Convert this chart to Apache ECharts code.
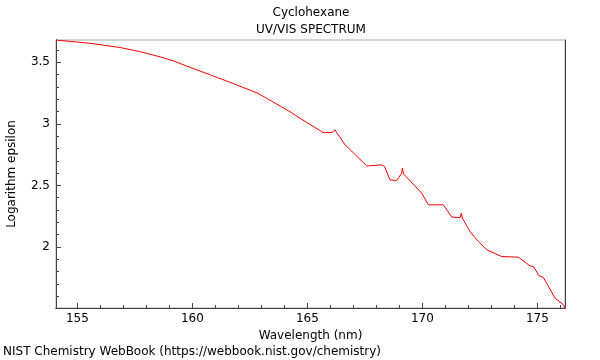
<!DOCTYPE html>
<html>
<head>
<meta charset="utf-8">
<script src="https://cdn.jsdelivr.net/npm/echarts@6/dist/echarts.min.js"></script>
<style>html,body{margin:0;padding:0;background:#fff}#c{width:600px;height:360px}</style>
</head>
<body>
<div id="c"></div>
<script>
const chartTitle = 'Cyclohexane';
const chartSubtitle = 'UV/VIS SPECTRUM';
const footer = 'NIST Chemistry WebBook (https://webbook.nist.gov/chemistry)';
const xName = 'Wavelength (nm)';
const yName = 'Logarithm epsilon';
const xRange = [154.07, 176.2];
const yRange = [1.504, 3.681];
const xMajorTicks = [155, 160, 165, 170, 175];
const xMinorTicks = [155, 156, 157, 158, 159, 160, 161, 162, 163, 164, 165, 166, 167, 168, 169, 170, 171, 172, 173, 174, 175, 176];
const yMajorTicks = [2, 2.5, 3, 3.5];
const yMinorTicks = [1.6, 1.7, 1.8, 1.9, 2.0, 2.1, 2.2, 2.3, 2.4, 2.5, 2.6, 2.7, 2.8, 2.9, 3.0, 3.1, 3.2, 3.3, 3.4, 3.5, 3.6];
const wavelength = [154.07, 155.55, 156.86, 157.73, 158.6, 159.25, 159.9, 160.33, 161.63, 162.85, 164.24, 164.68, 165.55, 165.68, 166.07, 166.15, 166.2, 166.25, 166.3, 166.64, 167.1, 167.58, 168.23, 168.35, 168.59, 168.88, 169.1, 169.13, 169.15, 169.18, 169.3, 169.97, 170.26, 170.91, 171.28, 171.64, 171.69, 171.71, 171.74, 172.07, 172.43, 172.8, 173.45, 174.17, 174.68, 174.83, 175.07, 175.26, 175.77, 176.13, 176.2];
const logEpsilon = [3.681, 3.654, 3.620, 3.586, 3.544, 3.506, 3.459, 3.429, 3.338, 3.248, 3.099, 3.045, 2.945, 2.929, 2.929, 2.933, 2.952, 2.935, 2.933, 2.829, 2.746, 2.658, 2.666, 2.655, 2.545, 2.539, 2.599, 2.640, 2.640, 2.593, 2.570, 2.437, 2.342, 2.342, 2.242, 2.239, 2.274, 2.274, 2.234, 2.125, 2.044, 1.976, 1.922, 1.917, 1.846, 1.841, 1.766, 1.752, 1.584, 1.530, 1.504];

const FONT = 'DejaVu Sans';
const chart = echarts.init(document.getElementById('c'), null, {renderer: 'canvas'});
const lbl = {color: '#000', fontFamily: FONT, fontSize: 12};
const fmt = v => String(Math.round(v * 1000) / 1000);
const axisCol = '#444';
chart.setOption({
  animation: false,
  backgroundColor: '#fff',
  grid: {left: 56, right: 35, top: 40, bottom: 52, show: true, borderColor: '#aaa', borderWidth: 1,
         containLabel: false, outerBoundsMode: 'none'},
  graphic: [
    {type: 'text', x: 311, y: 13, style: {text: chartTitle, font: '12px "DejaVu Sans"', fill: '#000', align: 'center', verticalAlign: 'middle'}},
    {type: 'text', x: 311, y: 30, style: {text: chartSubtitle, font: '12px "DejaVu Sans"', fill: '#000', align: 'center', verticalAlign: 'middle'}},
    {type: 'text', x: 3, y: 352, style: {text: footer, font: '12px "DejaVu Sans"', fill: '#000', align: 'left', verticalAlign: 'middle'}}
  ],
  xAxis: [
    {type: 'value', position: 'bottom', min: xRange[0], max: xRange[1],
     name: xName, nameLocation: 'middle', nameGap: 18, nameTextStyle: lbl,
     axisLine: {show: true, onZero: false, lineStyle: {color: axisCol, width: 1}},
     axisTick: {show: true, inside: true, length: 5, lineStyle: {color: axisCol}, customValues: xMajorTicks},
     axisLabel: Object.assign({margin: 5, customValues: xMajorTicks, formatter: fmt}, lbl),
     splitLine: {show: false}},
    {type: 'value', position: 'bottom', min: xRange[0], max: xRange[1], offset: 0, show: true,
     axisLine: {show: true, onZero: false, lineStyle: {color: axisCol, width: 1}},
     axisTick: {show: true, inside: true, length: 3, lineStyle: {color: axisCol}, customValues: xMinorTicks},
     axisLabel: {show: false}, splitLine: {show: false}}
  ],
  yAxis: [
    {type: 'value', position: 'left', min: yRange[0], max: yRange[1],
     name: yName, nameLocation: 'middle', nameGap: 38, nameTextStyle: lbl,
     axisLine: {show: true, onZero: false, lineStyle: {color: axisCol, width: 1}},
     axisTick: {show: true, inside: true, length: 5, lineStyle: {color: axisCol}, customValues: yMajorTicks},
     axisLabel: Object.assign({margin: 6, customValues: yMajorTicks, formatter: fmt}, lbl),
     splitLine: {show: false}},
    {type: 'value', position: 'left', min: yRange[0], max: yRange[1], offset: 0, show: true,
     axisLine: {show: true, onZero: false, lineStyle: {color: axisCol, width: 1}},
     axisTick: {show: true, inside: true, length: 3, lineStyle: {color: axisCol}, customValues: yMinorTicks},
     axisLabel: {show: false}, splitLine: {show: false}},
    {type: 'value', position: 'right', min: yRange[0], max: yRange[1], offset: 0,
     axisLine: {show: true, onZero: false, lineStyle: {color: axisCol, width: 1}}, axisTick: {show: false},
     axisLabel: {show: false}, splitLine: {show: false}}
  ],
  series: [{
    type: 'line', xAxisIndex: 0, yAxisIndex: 0, showSymbol: false, symbol: 'none',
    data: wavelength.map((w, i) => [w, logEpsilon[i]]),
    lineStyle: {color: '#ff0000', width: 1}, smooth: false
  }]
});
</script>
</body>
</html>
